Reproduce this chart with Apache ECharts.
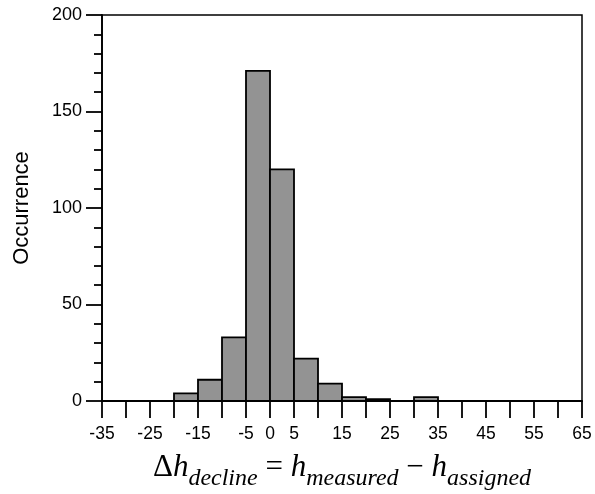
<!DOCTYPE html>
<html><head><meta charset="utf-8">
<script src="https://cdn.jsdelivr.net/npm/echarts@6/dist/echarts.min.js"></script>
<style>html,body{margin:0;padding:0;background:#fff}#c{width:595px;height:494px}</style>
</head><body><div id="c"></div>
<script>
const binStarts = [-20, -15, -10, -5, 0, 5, 10, 15, 20, 25, 30];
const binWidth = 5;
const counts = [4, 11, 33, 171, 120, 22, 9, 2, 1, 0, 2];
const xTickLabels = ['-35','-25','-15','-5','0','5','15','25','35','45','55','65'];
const yTickLabels = ['0','50','100','150','200'];

const data = binStarts.map((s, i) => [s, s + binWidth, counts[i]]).filter(d => d[2] > 0);

const chart = echarts.init(document.getElementById('c'), null, {renderer: 'canvas'});
chart.setOption({
  animation: false,
  backgroundColor: '#fff',
  grid: {left: 102, right: 13, top: 15, bottom: 93, outerBoundsMode: 'none', containLabel: false,
    show: true, borderColor: '#000', borderWidth: 1.5, backgroundColor: 'transparent'},
  xAxis: {
    type: 'value', min: -35, max: 65, interval: 5,
    axisLine: {show: true, onZero: false, lineStyle: {color: '#000', width: 2}},
    axisTick: {show: true, inside: false, length: 17, lineStyle: {color: '#000', width: 1.8}},
    axisLabel: {margin: 24, fontFamily: 'Liberation Sans', fontSize: 17.5, color: '#000',
      formatter: v => xTickLabels.includes(String(v)) ? String(v) : ''},
    splitLine: {show: false},
    name: '{m|Δ}{i|h}{s|decline}{m| = }{i|h}{s|measured}{m| − }{i|h}{s|assigned}',
    nameLocation: 'middle', nameGap: 51,
    nameTextStyle: {
      color: '#000',
      rich: {
        m: {fontFamily: 'Liberation Serif', fontSize: 31, color: '#000', lineHeight: 39, verticalAlign: 'top'},
        i: {fontFamily: 'Liberation Serif', fontStyle: 'italic', fontSize: 31, color: '#000', lineHeight: 39, verticalAlign: 'top'},
        s: {fontFamily: 'Liberation Serif', fontStyle: 'italic', fontWeight: 'normal', fontSize: 24, color: '#000', lineHeight: 24, verticalAlign: 'bottom'}
      }
    }
  },
  yAxis: {
    type: 'value', min: 0, max: 200, interval: 50,
    axisLine: {show: true, onZero: false, lineStyle: {color: '#000', width: 1.8}},
    axisTick: {show: true, inside: false, length: 16, lineStyle: {color: '#000', width: 1.8}},
    minorTick: {show: true, splitNumber: 5, length: 8, lineStyle: {color: '#000', width: 1.8}},
    axisLabel: {margin: 20, fontFamily: 'Liberation Sans', fontSize: 18, color: '#000',
      formatter: v => yTickLabels.includes(String(v)) ? String(v) : ''},
    splitLine: {show: false},
    name: 'Occurrence', nameLocation: 'middle', nameGap: 69,
    nameTextStyle: {fontFamily: 'Liberation Sans', fontSize: 22, color: '#000'}
  },
  series: [{
    type: 'custom',
    data: data,
    renderItem: function (params, api) {
      const p0 = api.coord([api.value(0), 0]);
      const p1 = api.coord([api.value(1), api.value(2)]);
      return {
        type: 'rect',
        shape: {x: p0[0], y: p1[1], width: p1[0] - p0[0], height: p0[1] - p1[1]},
        style: {fill: '#939393', stroke: '#000', lineWidth: 1.8}
      };
    }
  }]
});
</script></body></html>
